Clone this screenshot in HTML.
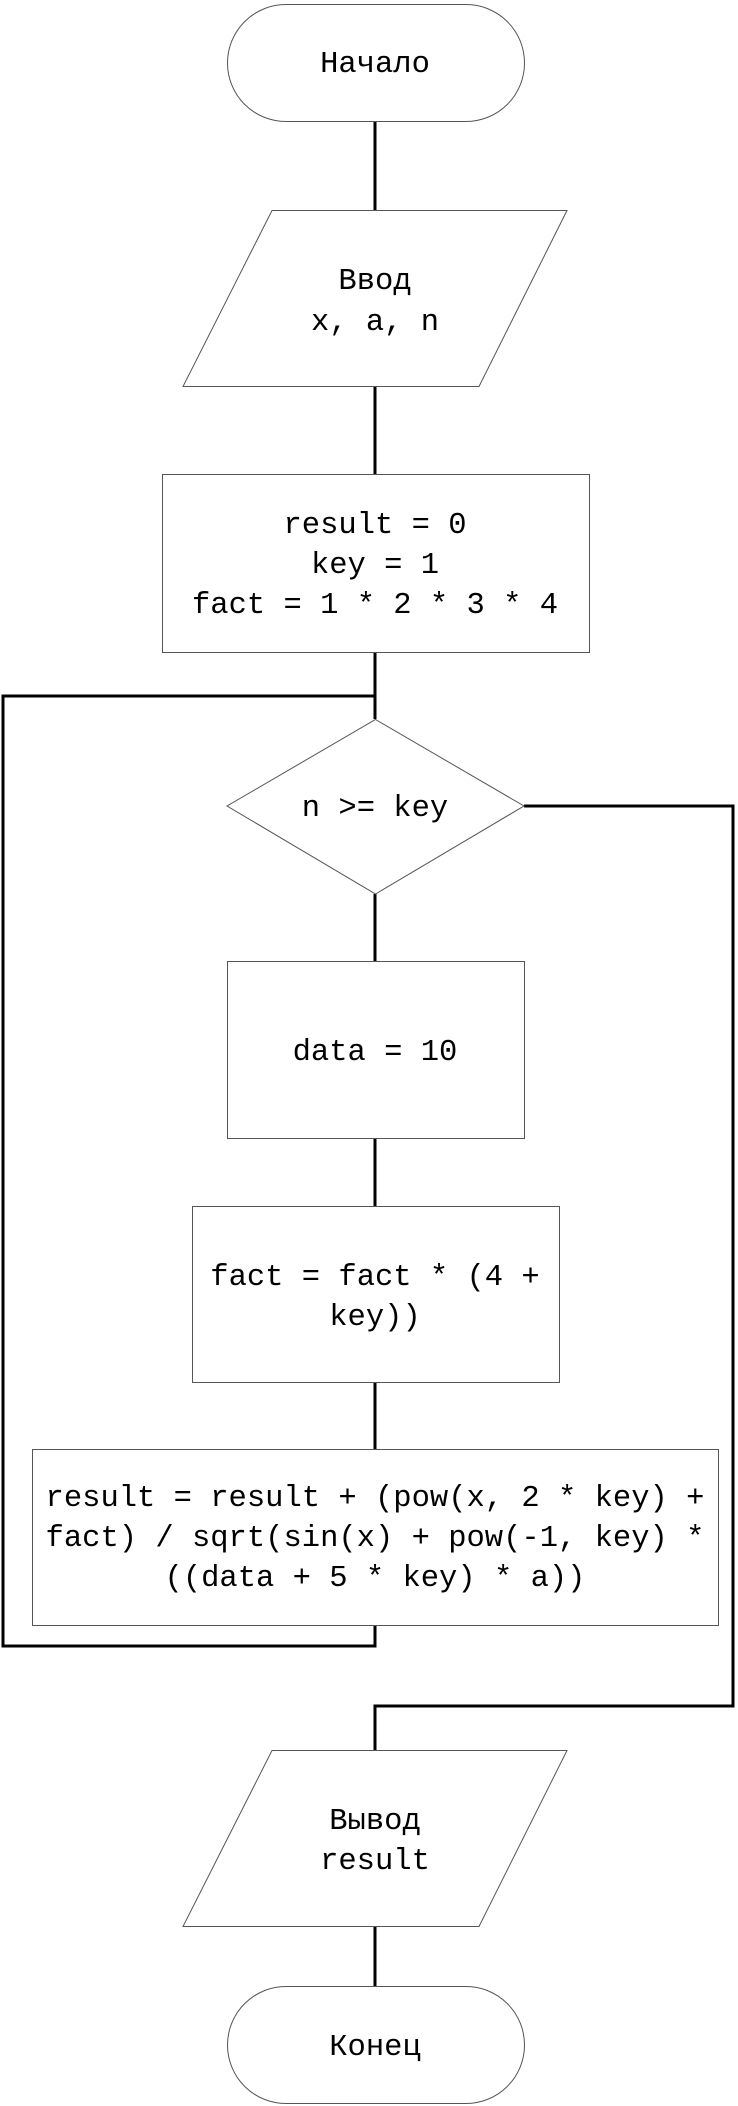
<!DOCTYPE html>
<html><head><meta charset="utf-8"><style>
html,body{margin:0;padding:0;background:#fff;}
svg{display:block;}
text{font-family:"Liberation Mono","DejaVu Sans Mono",monospace;font-size:30.5px;fill:#000;text-anchor:middle;}
</style></head><body>
<svg width="738" height="2106" viewBox="0 0 738 2106" xmlns="http://www.w3.org/2000/svg">
<g fill="none" stroke="#000" stroke-width="3">
<line x1="375" y1="121" x2="375" y2="210"/>
<line x1="375" y1="386" x2="375" y2="474"/>
<line x1="375" y1="652" x2="375" y2="719"/>
<polyline points="375,1625 375,1646 3,1646 3,696 375,696"/>
<polyline points="524,806 733,806 733,1706 375,1706 375,1750"/>
<line x1="375" y1="894" x2="375" y2="961"/>
<line x1="375" y1="1138" x2="375" y2="1206"/>
<line x1="375" y1="1382" x2="375" y2="1449"/>
<line x1="375" y1="1926" x2="375" y2="1986"/>
</g>
<g fill="#fff" stroke="#555" stroke-width="1">
<rect x="227.5" y="4.5" width="297" height="117" rx="58.5" ry="58.5"/>
<polygon points="272,210.5 567,210.5 479,386.5 183,386.5"/>
<rect x="162.5" y="474.5" width="427" height="178"/>
<polygon points="375.5,719.5 524,806 375.5,894 227,806"/>
<rect x="227.5" y="961.5" width="297" height="177"/>
<rect x="192.5" y="1206.5" width="367" height="176"/>
<rect x="32.5" y="1449.5" width="686" height="176"/>
<polygon points="272,1750.5 567,1750.5 479,1926.5 183,1926.5"/>
<rect x="227.5" y="1986.5" width="297" height="117" rx="58.5" ry="58.5"/>
</g>
<text x="375" y="72">Начало</text>
<text x="375" y="289">Ввод</text>
<text x="375" y="330">x, a, n</text>
<text x="375" y="533">result = 0</text>
<text x="375" y="573">key = 1</text>
<text x="375" y="613">fact = 1 * 2 * 3 * 4</text>
<text x="375" y="816">n &gt;= key</text>
<text x="375" y="1060">data = 10</text>
<text x="375" y="1285">fact = fact * (4 +</text>
<text x="375" y="1325">key))</text>
<text x="375" y="1506">result = result + (pow(x, 2 * key) +</text>
<text x="375" y="1546">fact) / sqrt(sin(x) + pow(-1, key) *</text>
<text x="375" y="1586">((data + 5 * key) * a))</text>
<text x="375" y="1829">Вывод</text>
<text x="375" y="1869">result</text>
<text x="375" y="2055">Конец</text>
</svg>
</body></html>
